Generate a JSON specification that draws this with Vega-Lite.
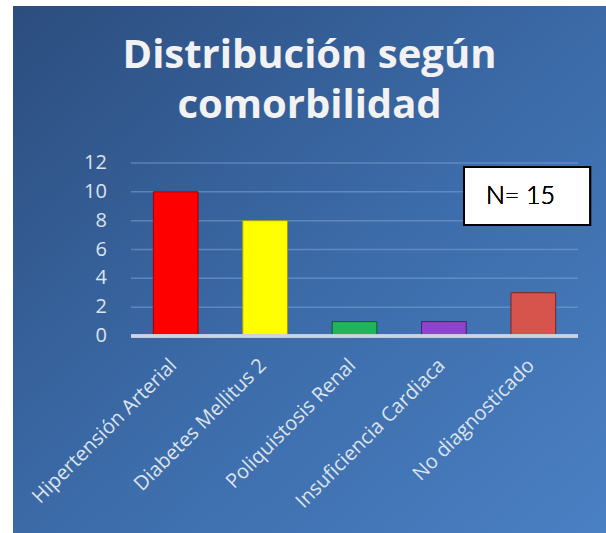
{
  "$schema": "https://vega.github.io/schema/vega-lite/v6.json",
  "width": 593,
  "height": 527,
  "autosize": {"type": "none"},
  "padding": {"left": 13, "top": 6, "right": 0, "bottom": 0},
  "background": "white",
  "config": {
    "view": {"stroke": null, "fill": {"gradient": "linear", "x1": 0, "y1": 0, "x2": 1, "y2": 1, "stops": [{"offset": 0, "color": "#2c4d7e"}, {"offset": 0.5, "color": "#3b6aa7"}, {"offset": 1, "color": "#4a80c4"}]}},
    "font": "Open Sans"
  },
  "title": {
    "text": ["Distribución según", "comorbilidad"],
    "fontSize": 40,
    "fontWeight": "bold",
    "color": "#f2f2f2",
    "font": "Open Sans",
    "lineHeight": 50,
    "anchor": "middle",
    "frame": "group",
    "baseline": "top",
    "offset": -120
  },
  "data": {"values": [
    {"Comorbilidad": "Hipertensión Arterial", "Casos": 10},
    {"Comorbilidad": "Diabetes Mellitus 2", "Casos": 8},
    {"Comorbilidad": "Poliquistosis Renal", "Casos": 1},
    {"Comorbilidad": "Insuficiencia Cardiaca", "Casos": 1},
    {"Comorbilidad": "No diagnosticado", "Casos": 3}
  ]},
  "resolve": {"scale": {"x": "independent"}, "axis": {"x": "independent"}},
  "layer": [
    {
      "data": {"values": [{"g": 2}, {"g": 4}, {"g": 6}, {"g": 8}, {"g": 10}, {"g": 12}]},
      "mark": {"type": "rule", "color": "#7fa2cf", "strokeWidth": 1.5, "opacity": 0.55},
      "encoding": {
        "x": {"datum": 0, "type": "quantitative", "scale": {"domain": [0, 1], "range": [118, 565]}, "axis": null},
        "x2": {"datum": 1},
        "y": {"field": "g", "type": "quantitative", "scale": {"domain": [0, 12], "range": [330, 157], "nice": false, "zero": true}, "axis": null}
      }
    },
    {
      "data": {"values": [{"t": 0}, {"t": 2}, {"t": 4}, {"t": 6}, {"t": 8}, {"t": 10}, {"t": 12}]},
      "mark": {"type": "text", "fontSize": 20, "font": "Open Sans", "color": "#dde3eb", "align": "right", "baseline": "middle"},
      "encoding": {
        "x": {"datum": -0.0537, "type": "quantitative", "scale": {"domain": [0, 1], "range": [118, 565]}, "axis": null},
        "y": {"field": "t", "type": "quantitative", "scale": {"domain": [0, 12], "range": [330, 157], "nice": false, "zero": true}, "axis": null},
        "text": {"field": "t", "type": "quantitative"}
      }
    },
    {
      "mark": {"type": "bar", "strokeWidth": 1},
      "encoding": {
        "x": {
          "field": "Comorbilidad", "type": "nominal", "sort": null,
          "scale": {"range": [118, 565], "paddingInner": 0.5, "paddingOuter": 0.25},
          "axis": {"title": null, "domain": false, "ticks": false, "labelAngle": -45, "labelAlign": "right", "labelBaseline": "middle", "labelPadding": -171, "labelOffset": -2, "labelFontSize": 20, "labelColor": "#dde3eb", "labelFont": "Open Sans", "labelLimit": 400}
        },
        "y": {
          "field": "Casos", "type": "quantitative",
          "scale": {"domain": [0, 12], "range": [330, 157], "nice": false, "zero": true},
          "axis": null
        },
        "color": {"field": "Comorbilidad", "type": "nominal", "sort": null, "legend": null,
          "scale": {"domain": ["Hipertensión Arterial", "Diabetes Mellitus 2", "Poliquistosis Renal", "Insuficiencia Cardiaca", "No diagnosticado"], "range": ["#ff0000", "#ffff00", "#22b45a", "#8e44c8", "#d6544c"]}},
        "stroke": {"field": "Comorbilidad", "type": "nominal", "sort": null, "legend": null,
          "scale": {"domain": ["Hipertensión Arterial", "Diabetes Mellitus 2", "Poliquistosis Renal", "Insuficiencia Cardiaca", "No diagnosticado"], "range": ["#9a0000", "#a8a000", "#0d5e2c", "#4a1f70", "#7a2620"]}}
      }
    },
    {
      "mark": {"type": "rule", "color": "#c9d4e4", "strokeWidth": 3, "opacity": 0.85},
      "encoding": {
        "x": {"datum": 0, "type": "quantitative", "scale": {"domain": [0, 1], "range": [118, 565]}, "axis": null},
        "x2": {"datum": 1},
        "y": {"datum": 0, "type": "quantitative", "scale": {"domain": [0, 12], "range": [330, 157], "nice": false, "zero": true}, "axis": null}
      }
    },
    {
      "mark": {"type": "rect", "fill": "white", "stroke": "black", "strokeWidth": 2},
      "encoding": {
        "x": {"datum": 0.745, "type": "quantitative", "scale": {"domain": [0, 1], "range": [118, 565]}, "axis": null},
        "x2": {"datum": 1.027},
        "y": {"datum": 11.72, "type": "quantitative", "scale": {"domain": [0, 12], "range": [330, 157], "nice": false, "zero": true}, "axis": null},
        "y2": {"datum": 7.70}
      }
    },
    {
      "mark": {"type": "text", "text": "N= 15", "fontSize": 25, "fontWeight": 300, "font": "Lato", "color": "black", "align": "left", "baseline": "alphabetic"},
      "encoding": {
        "x": {"datum": 0.794, "type": "quantitative", "scale": {"domain": [0, 1], "range": [118, 565]}, "axis": null},
        "y": {"datum": 9.16, "type": "quantitative", "scale": {"domain": [0, 12], "range": [330, 157], "nice": false, "zero": true}, "axis": null}
      }
    }
  ]
}
